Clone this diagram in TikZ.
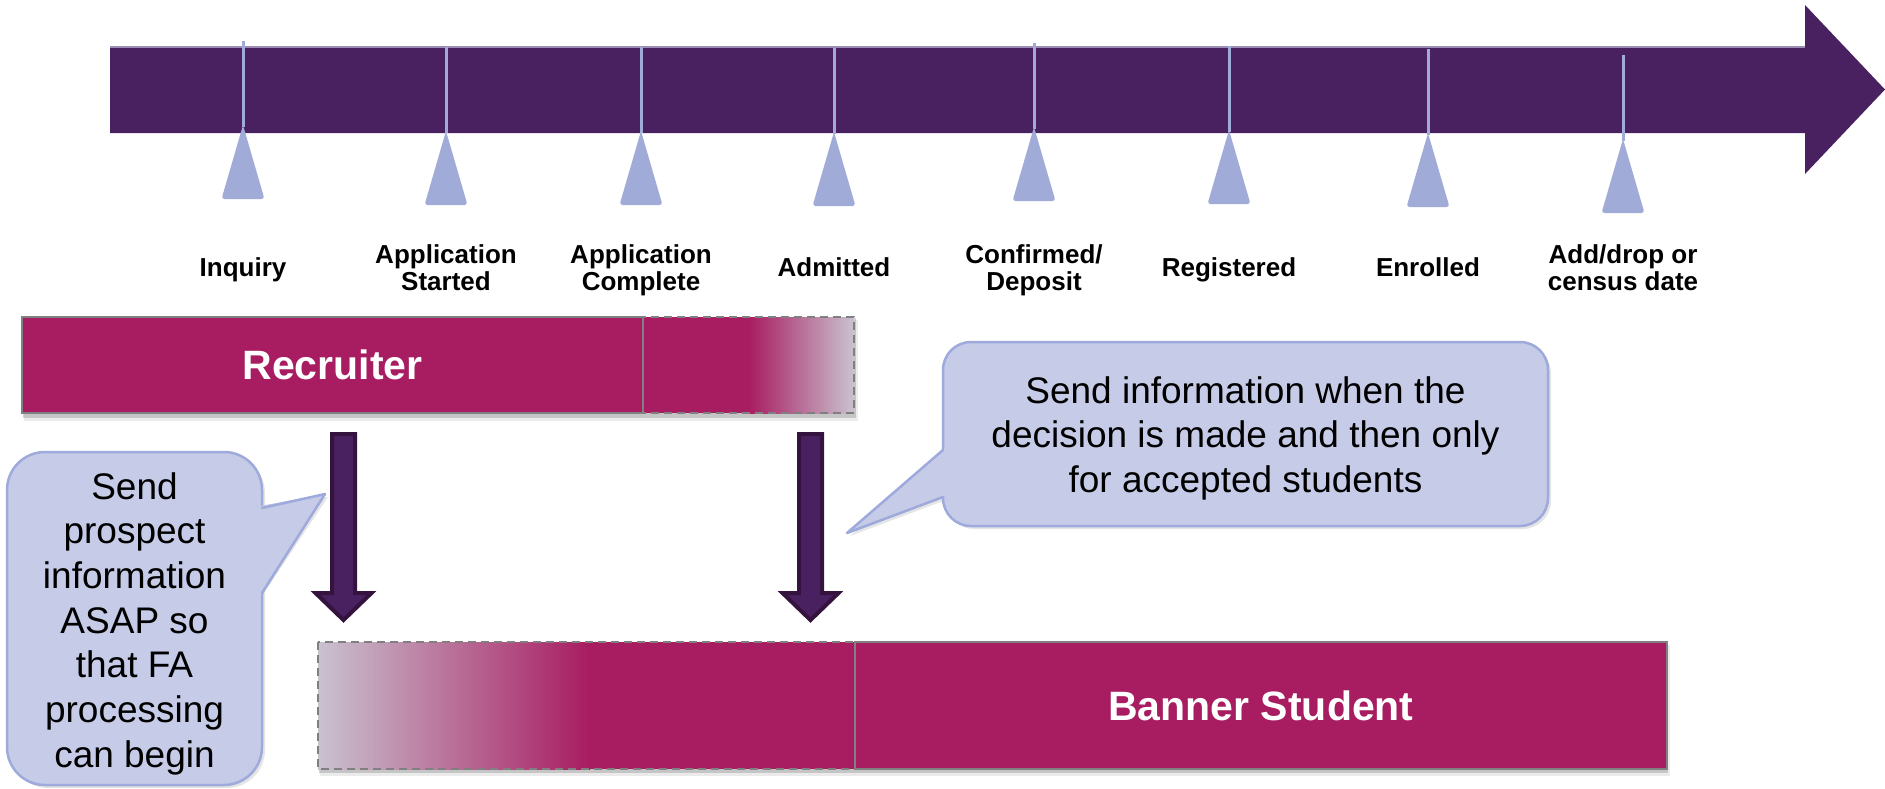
\documentclass[tikz,border=0pt]{standalone}
\usepackage{fontspec}
\setmainfont{Liberation Sans}
\usetikzlibrary{calc}
\definecolor{tlpurple}{HTML}{4A2160}
\definecolor{arrdark}{HTML}{34133E}
\definecolor{mag}{HTML}{A81C61}
\definecolor{lightg}{HTML}{C9C2CF}
\definecolor{callfill}{HTML}{C6CBE7}
\definecolor{calldraw}{HTML}{9DAADB}
\definecolor{tickc}{HTML}{A1ABD8}
\definecolor{topedge}{HTML}{9C8DB5}
\definecolor{dashg}{HTML}{808080}
\newcommand\twol[2]{\begin{tabular}[t]{@{}c@{}}#1\\#2\end{tabular}}
\begin{document}
\begin{tikzpicture}[x=1pt,y=-1pt,
  lab/.style={font=\fontsize{26}{27}\selectfont\bfseries, inner sep=0pt, anchor=base},
  bartext/.style={font=\fontsize{41}{48}\selectfont\bfseries, text=white, inner sep=0pt},
  calltext/.style={font=\fontsize{37}{44.7}\selectfont, inner sep=0pt, anchor=base},
  tickline/.style={draw=tickc, line width=3pt},
  ticktri/.style={fill=tickc, rounded corners=3pt},
  callbox/.style={fill=callfill, draw=calldraw, line width=2.5pt},
  calledge/.style={draw=calldraw, line width=2.5pt, line join=round, line cap=round},
  callshadow/.style={fill=black, opacity=0.10},
  blockarrow/.style={fill=tlpurple, draw=arrdark, line width=4pt, line join=miter},
  dashedbox/.style={draw=dashg, line width=2pt, dash pattern=on 8pt off 5pt},
  solidedge/.style={draw=dashg, line width=1.5pt},
  shadowA/.style={fill=black, opacity=0.16},
  shadowB/.style={fill=black, opacity=0.08},
]
\useasboundingbox (0,0) rectangle (1885,788);

% ---------- timeline arrow ----------
\fill[tlpurple] (110,47) -- (1805,47) -- (1805,5) -- (1885,89.5) -- (1805,174) -- (1805,133) -- (110,133) -- cycle;
\draw[topedge, line width=1.2pt] (110,47) -- (1805,47);

% ---------- ticks ----------
\foreach \x/\t in {243/41, 446/47, 641/47, 834/48, 1034/43, 1229/46, 1428/49, 1623/55}{
  \draw[tickline] (\x,\t) -- (\x,\t+86);
  \fill[ticktri] (\x,\t+84) -- (\x+21.5,\t+158) -- (\x-21.5,\t+158) -- cycle;
}

% ---------- milestone labels ----------
\node[lab] (inq) at (243,276) {Inquiry};
\node[lab] (aps) at (446,263) {\twol{Application}{Started}};
\node[lab] (apc) at (641,263) {\twol{Application}{Complete}};
\node[lab] (adm) at (834,276) {Admitted};
\node[lab] (con) at (1034,263) {\twol{Confirmed/}{Deposit}};
\node[lab] (reg) at (1229,276) {Registered};
\node[lab] (enr) at (1428,276) {Enrolled};
\node[lab] (add) at (1623,263) {\twol{Add/drop or}{census date}};

% ---------- Recruiter bar ----------
\fill[shadowB] (24,320) rectangle (858,421);
\fill[shadowA] (23,318) rectangle (856,418);
\fill[mag] (22,317) rectangle (643,413);
\fill[mag] (643,317) rectangle (748,413);
\shade[left color=mag, right color=lightg] (748,317) rectangle (854,413);
\draw[solidedge] (22,317) rectangle (643,413);
\draw[dashedbox] (643,317) rectangle (854,413);
\node[bartext] (rec) at (332.5,365) {Recruiter};

% ---------- Banner Student bar ----------
\fill[shadowB] (320,645) rectangle (1670,776);
\fill[shadowA] (319,643) rectangle (1668,773);
\shade[left color=lightg, right color=mag] (318,642) rectangle (590,769);
\fill[mag] (590,642) rectangle (855,769);
\fill[mag] (855,642) rectangle (1667,769);
\draw[dashedbox] (318,642) rectangle (855,769);
\draw[solidedge] (855,642) rectangle (1667,769);
\node[bartext] (ban) at (1261,705.5) {Banner Student};

% ---------- block arrows ----------
\coordinate (a1) at (343.5,434);
\coordinate (a2) at (810.5,434);
\foreach \c in {a1,a2}{
  \draw[blockarrow] ($(\c)+(-11.5,0)$) -- ($(\c)+(11.5,0)$) -- ($(\c)+(11.5,159)$) -- ($(\c)+(28,159)$)
     -- ($(\c)+(0,186)$) -- ($(\c)+(-28,159)$) -- ($(\c)+(-11.5,159)$) -- cycle;
}

% ---------- callout 1 ----------
\fill[callshadow, rounded corners=38pt] (10,455) rectangle (265,788);
\fill[callshadow] (262,511) -- (328,497) -- (262,596) -- cycle;
\draw[callbox, rounded corners=38pt] (7,452) rectangle (262,785);
\fill[callfill] (260,506) -- (325,494) -- (260,596) -- cycle;
\draw[calledge] (262,508) -- (325,494) -- (262,593);
\node[calltext] (c1) at (134.5,499) {\begin{tabular}[t]{@{}c@{}}Send\\prospect\\information\\ASAP so\\that FA\\processing\\can begin\end{tabular}};

% ---------- callout 2 ----------
\fill[callshadow, rounded corners=28pt] (946,345) rectangle (1551,529);
\fill[callshadow] (946,453) -- (850,536) -- (946,500) -- cycle;
\draw[callbox, rounded corners=28pt] (943,342) rectangle (1548,526);
\fill[callfill] (945.5,447.8) -- (847,533) -- (945.5,496.1) -- cycle;
\draw[calledge] (943,450) -- (847,533) -- (943,497);
\node[calltext] (c2) at (1245.5,403) {\begin{tabular}[t]{@{}c@{}}Send information when the\\decision is made and then only\\for accepted students\end{tabular}};

\end{tikzpicture}
\end{document}
